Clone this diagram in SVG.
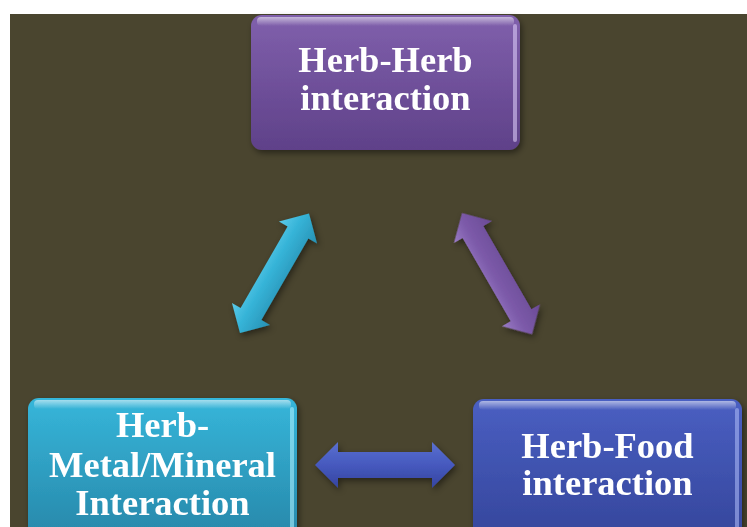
<svg xmlns="http://www.w3.org/2000/svg" width="747" height="527" viewBox="0 0 747 527">
<defs>
<style>
.lbl{font-family:"Liberation Serif","Times New Roman",serif;font-weight:bold;font-size:36.5px;fill:#ffffff;text-anchor:middle}
</style>
<linearGradient id="gP" x1="0" y1="0" x2="0" y2="1"><stop offset="0" stop-color="#8060AC"/><stop offset="1" stop-color="#5F4189"/></linearGradient>
<linearGradient id="gC" x1="0" y1="0" x2="0" y2="1"><stop offset="0" stop-color="#36B6DA"/><stop offset="1" stop-color="#2786A8"/></linearGradient>
<linearGradient id="gB" x1="0" y1="0" x2="0" y2="1"><stop offset="0" stop-color="#4A5FC2"/><stop offset="1" stop-color="#34459A"/></linearGradient>
<linearGradient id="aC" x1="0" y1="0" x2="0" y2="1"><stop offset="0" stop-color="#5CCBEA"/><stop offset="0.4" stop-color="#36B4D8"/><stop offset="1" stop-color="#2790B3"/></linearGradient>
<linearGradient id="aP" x1="0" y1="0" x2="0" y2="1"><stop offset="0" stop-color="#6A4A96"/><stop offset="0.6" stop-color="#7D5BAA"/><stop offset="1" stop-color="#9A7CC6"/></linearGradient>
<linearGradient id="aB" x1="0" y1="0" x2="0" y2="1"><stop offset="0" stop-color="#5A70D0"/><stop offset="0.5" stop-color="#4659BE"/><stop offset="1" stop-color="#3545A0"/></linearGradient>
<linearGradient id="hl" x1="0" y1="0" x2="0" y2="1"><stop offset="0" stop-color="#ffffff" stop-opacity="0.55"/><stop offset="1" stop-color="#ffffff" stop-opacity="0"/></linearGradient>
<filter id="sh" x="-10%" y="-10%" width="130%" height="130%"><feDropShadow dx="2" dy="3" stdDeviation="3" flood-color="#000" flood-opacity="0.45"/></filter>
</defs>
<rect x="0" y="0" width="747" height="527" fill="#ffffff"/>
<rect x="10" y="14" width="737" height="513" fill="#4A452F"/>
<g id="node-herb-herb" filter="url(#sh)">
<rect x="251" y="15" width="269" height="135" rx="11" fill="url(#gP)"/>
<rect x="257" y="17" width="257" height="9" rx="4" fill="url(#hl)"/>
<rect x="513" y="24" width="4" height="118" rx="2" fill="#D9C8F5" opacity="0.6"/>
<text class="lbl" x="385.5" y="72">Herb-Herb</text>
<text class="lbl" x="385.5" y="110">interaction</text>
</g>
<g id="node-herb-metal" filter="url(#sh)">
<rect x="28" y="398" width="269" height="145" rx="11" fill="url(#gC)"/>
<rect x="34" y="400" width="257" height="9" rx="4" fill="url(#hl)"/>
<rect x="290" y="407" width="4" height="125" rx="2" fill="#A9ECFC" opacity="0.6"/>
<text class="lbl" x="162.5" y="437">Herb-</text>
<text class="lbl" x="162.5" y="477">Metal/Mineral</text>
<text class="lbl" x="162.5" y="515">Interaction</text>
</g>
<g id="node-herb-food" filter="url(#sh)">
<rect x="473" y="399" width="269" height="145" rx="11" fill="url(#gB)"/>
<rect x="479" y="401" width="257" height="9" rx="4" fill="url(#hl)"/>
<rect x="735" y="408" width="4" height="125" rx="2" fill="#A8B6F4" opacity="0.6"/>
<text class="lbl" x="607.5" y="458">Herb-Food</text>
<text class="lbl" x="607.5" y="495">interaction</text>
</g>
<g id="connectors" filter="url(#sh)">
<polygon transform="translate(240,333) rotate(-60)" fill="url(#aC)" points="0,0 22,-22 22,-12 116,-12 116,-22 138,0 116,22 116,12 22,12 22,22"/>
<polygon transform="translate(462,213) rotate(60)" fill="url(#aP)" points="0,0 22,-22 22,-12 118,-12 118,-22 140,0 118,22 118,12 22,12 22,22"/>
<polygon transform="translate(315,465)" fill="url(#aB)" points="0,0 23,-23 23,-13 117,-13 117,-23 140,0 117,23 117,13 23,13 23,23"/>
</g>
</svg>
